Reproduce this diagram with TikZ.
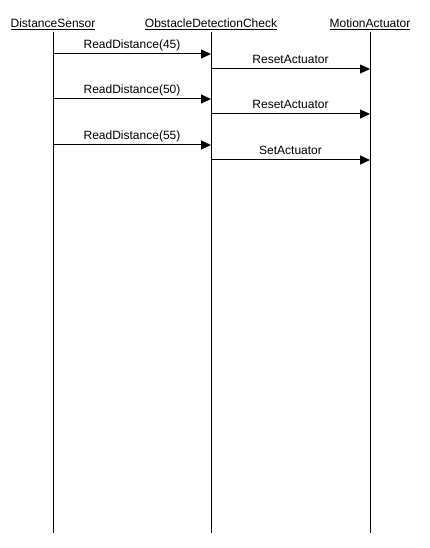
\documentclass[tikz,border=0pt]{standalone}
\usepackage{fontspec}
\setmainfont{Liberation Sans}
\usetikzlibrary{arrows.meta}
\begin{document}
\begin{tikzpicture}[x=1pt,y=-1pt,
  head/.style={font=\fontsize{12}{14}\selectfont, anchor=base, inner sep=0pt},
  lbl/.style={font=\fontsize{12}{14}\selectfont, anchor=base, inner sep=0pt},
  life/.style={line width=1pt},
  msg/.style={line width=1pt, -{Triangle[length=10pt,width=9pt]}, shorten >=0pt}]
\useasboundingbox (0,0) rectangle (429,548);
% headers
\node[head] (ds) at (53,28) {\underline{DistanceSensor}};
\node[head] (odc) at (211,28) {\underline{ObstacleDetectionCheck}};
\node[head] (ma) at (370,28) {\underline{MotionActuator}};
% lifeline ends
\coordinate (dsT) at (53,32); \coordinate (dsB) at (53,533);
\coordinate (odcT) at (211,32); \coordinate (odcB) at (211,533);
\coordinate (maT) at (370,32); \coordinate (maB) at (370,533);
\draw[life] (dsT) -- (dsB);
\draw[life] (odcT) -- (odcB);
\draw[life] (maT) -- (maB);
% message points
\foreach \n/\y in {1/54,3/99,5/145}{
  \coordinate (a\n) at (53,\y); \coordinate (b\n) at (211,\y);}
\foreach \n/\y in {2/69,4/114,6/160}{
  \coordinate (a\n) at (211,\y); \coordinate (b\n) at (370,\y);}
\draw[msg] (a1) -- (b1) node[lbl, pos=0.5, yshift=5.5pt] (m1) {ReadDistance(45)};
\draw[msg] (a2) -- (b2) node[lbl, pos=0.5, yshift=5.5pt] (m2) {ResetActuator};
\draw[msg] (a3) -- (b3) node[lbl, pos=0.5, yshift=5.5pt] (m3) {ReadDistance(50)};
\draw[msg] (a4) -- (b4) node[lbl, pos=0.5, yshift=5.5pt] (m4) {ResetActuator};
\draw[msg] (a5) -- (b5) node[lbl, pos=0.5, yshift=5.5pt] (m5) {ReadDistance(55)};
\draw[msg] (a6) -- (b6) node[lbl, pos=0.5, yshift=5.5pt] (m6) {SetActuator};
\end{tikzpicture}
\end{document}
